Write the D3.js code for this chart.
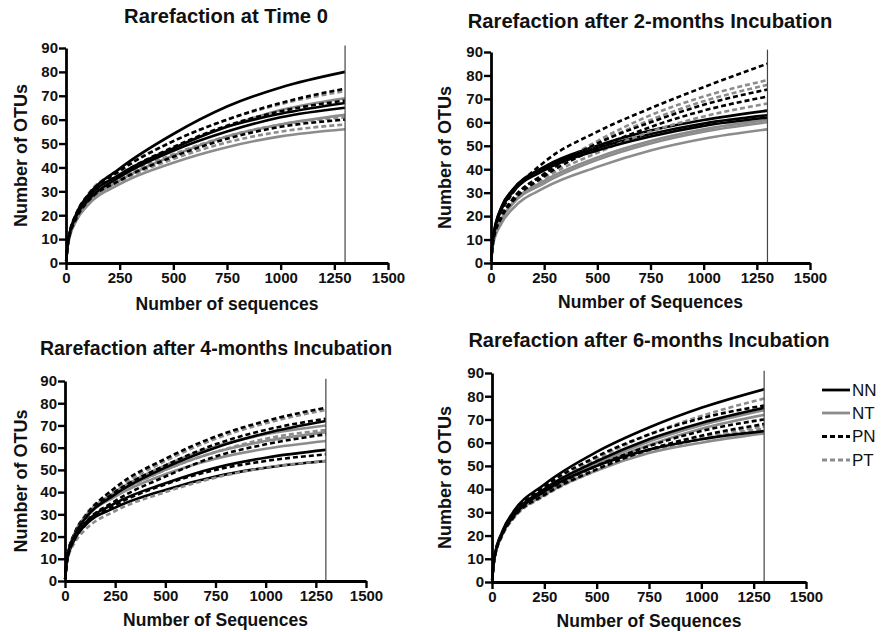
<!DOCTYPE html>
<html>
<head>
<meta charset="utf-8">
<script src="https://cdn.jsdelivr.net/npm/d3@7/dist/d3.min.js"></script>
<style>
  html, body { margin: 0; padding: 0; background: #fff; }
  svg { display: block; font-family: "Liberation Sans", Arial, Helvetica, sans-serif; }
</style>
</head>
<body>
<svg id="chart" width="885" height="632"></svg>
<script>
// ---------- DATA ----------
const seqDepth = [1, 10, 50, 100, 250, 500, 750, 1000, 1300];
const groups = ["NN", "NT", "PN", "PT"];
const xTicks = [0, 250, 500, 750, 1000, 1250, 1500];
const yTicks = [0, 10, 20, 30, 40, 50, 60, 70, 80, 90];
const titles = [
  "Rarefaction at Time 0",
  "Rarefaction after 2-months Incubation",
  "Rarefaction after 4-months Incubation",
  "Rarefaction after 6-months Incubation"
];
const xLabels = ["Number of sequences", "Number of Sequences", "Number of Sequences", "Number of Sequences"];
const yLabel = "Number of OTUs";
const cutoff = 1300;

// Time 0
const t0_NN = [
  [1, 9, 21, 28, 39.5, 54, 65.5, 73.5, 80],
  [1, 9, 20, 27, 37, 48, 57, 62.5, 67],
  [1, 9, 20, 26, 36, 47, 55, 61, 65]
];
const t0_NT = [
  [1, 8, 18, 24, 33, 42, 48.5, 53, 56],
  [1, 8.5, 19, 26, 36, 48, 57, 64, 69],
  [1, 8.5, 19, 25, 34.5, 45, 53, 58, 62]
];
const t0_PN = [
  [1, 9.5, 21, 28, 38.5, 51, 60, 67, 73],
  [1, 9, 20, 27, 37, 48.5, 57.5, 63.5, 68],
  [1, 8.5, 19, 25.5, 34.5, 44.5, 52, 57, 60]
];
const t0_PT = [
  [1, 9.5, 21, 28.5, 39, 51, 60, 66.5, 72],
  [1, 9, 19.5, 26, 35.5, 45.5, 53, 58, 61],
  [1, 8.5, 19, 25, 34, 43.5, 50.5, 55, 58]
];
// 2 months
const m2_NN = [
  [1, 11, 24, 31, 41, 50, 56.5, 61, 65],
  [1, 11, 24, 31, 40.5, 49, 55, 59.5, 63],
  [1, 10, 23, 30, 39.5, 48, 54, 58.5, 62]
];
const m2_NT = [
  [1, 9, 19, 25.5, 35, 45, 52, 57, 61],
  [1, 8.5, 18.5, 25, 34, 44, 51, 56, 60],
  [1, 8, 17, 23, 32, 41, 48, 53, 57]
];
const m2_PN = [
  [1, 10, 22, 29.5, 43, 56, 66, 75, 85],
  [1, 9, 20, 27, 38, 51, 60, 67.5, 74],
  [1, 9, 19.5, 26, 37, 49, 58, 65, 71]
];
const m2_PT = [
  [1, 9, 20, 27, 38, 52, 63, 71, 78],
  [1, 9, 20, 27, 38, 51, 61, 69, 76],
  [1, 8.5, 19, 25.5, 36, 47, 56, 62.5, 68]
];
// 4 months
const m4_NN = [
  [1, 9, 20, 26, 35, 44, 51, 55.5, 59],
  [1, 9, 19, 25, 33, 41, 47, 51, 54],
  [1, 10, 21, 28, 39, 51, 60, 66.5, 72]
];
const m4_NT = [
  [1, 10, 22, 29, 40, 52, 60.5, 66, 70],
  [1, 10, 21.5, 28.5, 39, 50, 58, 63, 67],
  [1, 9.5, 21, 28, 38, 48, 55, 59.5, 63]
];
const m4_PN = [
  [1, 10, 22, 29, 42, 55, 65, 72, 78],
  [1, 10, 21.5, 28.5, 40, 52, 61.5, 68, 73],
  [1, 9, 19.5, 26, 36, 47, 56, 61.5, 66],
  [1, 9, 19, 25, 34, 43.5, 50, 54, 57]
];
const m4_PT = [
  [1, 10, 22, 29.5, 41, 54, 64, 71, 77],
  [1, 9.5, 21, 28, 38.5, 50, 58, 64, 68],
  [1, 8.5, 17.5, 23, 31.5, 40, 46.5, 51, 54]
];
// 6 months
const m6_NN = [
  [1, 10, 22, 30, 42, 56, 66.5, 75, 83],
  [1, 9.5, 21, 28.5, 40, 52, 61.5, 68.5, 75],
  [1, 9.5, 21, 28, 39, 50, 57, 61.5, 65]
];
const m6_NT = [
  [1, 9.5, 21, 28, 39, 51, 60.5, 67.5, 74],
  [1, 9.5, 21, 28, 38.5, 50, 59, 66, 72],
  [1, 9, 20.5, 27.5, 37.5, 48, 55.5, 60, 64]
];
const m6_PN = [
  [1, 10, 21.5, 29, 41, 54, 63.5, 70.5, 76],
  [1, 9.5, 21, 28, 38.5, 50, 58.5, 65, 70],
  [1, 9, 20.5, 27.5, 37.5, 48.5, 57, 63, 68]
];
const m6_PT = [
  [1, 9.5, 21, 28.5, 40, 53, 63.5, 71.5, 79],
  [1, 9.5, 20.5, 27.5, 37.5, 48.5, 57, 62.5, 67],
  [1, 9, 20, 27, 37, 48, 56, 61.5, 66]
];

const panelData = [
  { NN: t0_NN, NT: t0_NT, PN: t0_PN, PT: t0_PT },
  { NN: m2_NN, NT: m2_NT, PN: m2_PN, PT: m2_PT },
  { NN: m4_NN, NT: m4_NT, PN: m4_PN, PT: m4_PT },
  { NN: m6_NN, NT: m6_NT, PN: m6_PN, PT: m6_PT }
];

// ---------- STYLE / LAYOUT ----------
const groupStyle = {
  NN: { color: "#000000", dash: null },
  NT: { color: "#8c8c8c", dash: null },
  PN: { color: "#000000", dash: "5,3" },
  PT: { color: "#8c8c8c", dash: "5,3" }
};
const layout = [
  { left: 66,  right: 388, top: 48,  bottom: 263, titleX: 226, titleY: 23,  titleSize: 20.2, yLabX: 21,  xLabY: 310 },
  { left: 491, right: 810, top: 52,  bottom: 263, titleX: 650, titleY: 28,  titleSize: 20.2, yLabX: 445, xLabY: 308 },
  { left: 65,  right: 366, top: 381, bottom: 581, titleX: 216, titleY: 355, titleSize: 19.5, yLabX: 21,  xLabY: 626 },
  { left: 492, right: 806, top: 373, bottom: 582, titleX: 649, titleY: 347, titleSize: 20,   yLabX: 445, xLabY: 627 }
];

const svg = d3.select("#chart");

layout.forEach((L, pi) => {
  const g = svg.append("g");
  const x = d3.scaleLinear().domain([0, 1500]).range([L.left, L.right]);
  const y = d3.scaleLinear().domain([0, 90]).range([L.bottom, L.top]);

  const line = d3.line()
    .x((d, i) => x(seqDepth[i]))
    .y(d => y(d))
    .curve(d3.curveMonotoneX);

  const data = panelData[pi];
  const maxRep = d3.max(groups, k => data[k].length);
  const drawOrder = ["NT", "PT", "NN", "PN"];
  for (let r = 0; r < maxRep; r++) {
    drawOrder.forEach(k => {
      const rep = data[k][r];
      if (!rep) return;
      g.append("path")
        .attr("d", line(rep))
        .attr("fill", "none")
        .attr("stroke", groupStyle[k].color)
        .attr("stroke-width", 2.6)
        .attr("stroke-dasharray", groupStyle[k].dash);
    });
  }

  // cutoff line
  g.append("line")
    .attr("x1", x(cutoff)).attr("x2", x(cutoff))
    .attr("y1", y(91)).attr("y2", y(0))
    .attr("stroke", "#444").attr("stroke-width", 1.2);

  // axes
  const xAxis = g.append("g")
    .attr("transform", `translate(0,${L.bottom})`)
    .call(d3.axisBottom(x).tickValues(xTicks).tickFormat(d3.format("d")).tickSize(7).tickSizeOuter(0).tickPadding(2));
  const yAxis = g.append("g")
    .attr("transform", `translate(${L.left},0)`)
    .call(d3.axisLeft(y).tickValues(yTicks).tickSize(7).tickSizeOuter(0).tickPadding(1));
  [xAxis, yAxis].forEach(a => {
    a.select(".domain").attr("stroke", "#000").attr("stroke-width", 2.8);
    a.selectAll(".tick line").attr("stroke", "#000").attr("stroke-width", 2.4);
    a.selectAll(".tick text")
      .attr("fill", "#111")
      .style("font-family", '"Liberation Sans", Arial, sans-serif')
      .style("font-size", "15px")
      .style("font-weight", "bold");
  });

  // title
  g.append("text")
    .attr("x", L.titleX).attr("y", L.titleY)
    .attr("text-anchor", "middle")
    .style("font-size", L.titleSize + "px").style("font-weight", "bold")
    .attr("fill", "#111")
    .text(titles[pi]);

  // x label
  g.append("text")
    .attr("x", (L.left + L.right) / 2).attr("y", L.xLabY)
    .attr("text-anchor", "middle")
    .style("font-size", "17.5px").style("font-weight", "bold")
    .attr("fill", "#111")
    .text(xLabels[pi]);

  // y label
  g.append("text")
    .attr("transform", `translate(${L.yLabX},${(L.top + L.bottom) / 2}) rotate(-90)`)
    .attr("text-anchor", "middle")
    .attr("dy", "0.35em")
    .style("font-size", "18px").style("font-weight", "bold")
    .attr("fill", "#111")
    .text(yLabel);
});

// legend
const legY = [390, 413, 436.5, 460];
const leg = svg.append("g");
groups.forEach((k, i) => {
  leg.append("line")
    .attr("x1", 822).attr("x2", 850)
    .attr("y1", legY[i]).attr("y2", legY[i])
    .attr("stroke", groupStyle[k].color)
    .attr("stroke-width", 2.8)
    .attr("stroke-dasharray", groupStyle[k].dash);
  leg.append("text")
    .attr("x", 852).attr("y", legY[i])
    .attr("dy", "0.35em")
    .style("font-size", "17px")
    .attr("fill", "#111")
    .text(k);
});
</script>
</body>
</html>
